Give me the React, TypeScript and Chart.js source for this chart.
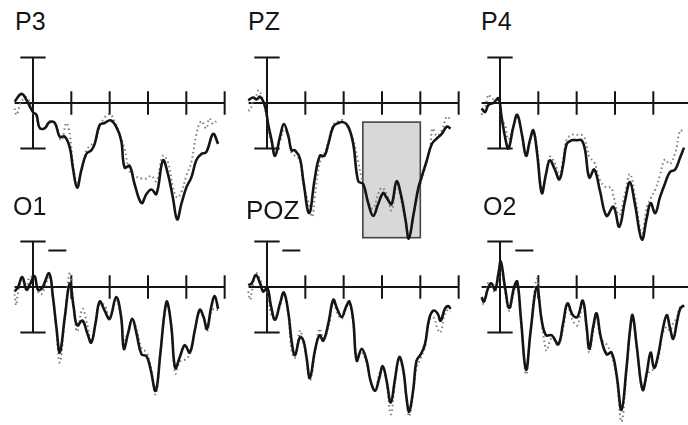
import { useEffect, useRef } from "react";
import { Chart, registerables } from "chart.js";

Chart.register(...registerables);

// ---------- data (time in ms, amplitude in µV) ----------
const TICKS_MS = [100, 200, 300, 400, 500];
const AXIS_START_MS = -48;
const AXIS_END_MS = 500;
const ERROR_BAR_UV = 5;
const TICK_HALF_UV = 1.3;
const SCALE_BAR_MS = [40, 87];
const SCALE_BAR_UV = 4;
const WINDOW_MS = [250, 400];
const WINDOW_UV = [-2.1, -14.8];

const P3_SOLID: [number, number][] = [
  [-48, 0.15], [-30, 1.0], [-17, 0.33], [0, -1.0], [9, -1.3], [17, -2.7], [30, -2.8], [43, -2.1],
  [57, -2.2], [70, -3.7], [83, -3.7], [96, -4.9], [104, -7.1], [115, -9.3], [126, -7.4], [139, -5.6],
  [152, -5.2], [161, -4.5], [174, -2.4], [187, -2.2], [202, -1.9], [217, -2.6], [230, -4.1], [239, -7.1],
  [252, -6.9], [265, -8.9], [283, -11.0], [296, -10.0], [309, -9.5], [322, -10.0], [339, -6.3], [352, -7.8],
  [365, -10.4], [376, -12.8], [387, -11.1], [400, -9.3], [413, -8.2], [426, -6.3], [439, -5.6], [452, -5.4],
  [470, -3.4], [483, -4.5],
];
const P3_DOTTED: [number, number][] = [
  [-48, -0.6], [-43, -1.3], [-30, 0.2], [-15, 0.6], [0, -1.1], [9, -1.5], [17, -2.8], [30, -2.8],
  [43, -2.0], [57, -2.2], [74, -4.1], [87, -2.2], [96, -3.5], [104, -6.5], [115, -8.9], [126, -7.6],
  [139, -5.2], [152, -4.6], [161, -4.3], [174, -2.6], [187, -1.6], [200, -1.2], [213, -2.0], [226, -3.5],
  [239, -5.0], [252, -7.5], [265, -8.0], [283, -8.3], [296, -8.3], [309, -8.0], [322, -8.6], [339, -5.8],
  [352, -6.5], [365, -9.2], [376, -10.4], [387, -9.8], [400, -8.0], [413, -6.5], [426, -3.5], [439, -2.0],
  [452, -2.8], [460, -1.7], [470, -2.3], [478, -2.0],
];

const PZ_SOLID: [number, number][] = [
  [-49, 0.3], [-36, 0.6], [-27, 0.4], [-18, 0.7], [-5, -0.4], [3, -2.3], [12, -4.1], [21, -5.8],
  [34, -3.7], [44, -2.3], [56, -3.7], [64, -5.2], [73, -5.2], [86, -6.1], [95, -8.6], [110, -12.1],
  [125, -8.2], [138, -5.8], [150, -5.8], [160, -4.5], [173, -2.6], [186, -2.2], [199, -2.1], [212, -2.6],
  [225, -4.5], [238, -8.6], [251, -8.9], [264, -11.0], [277, -12.4], [290, -11.1], [303, -9.9], [312, -10.4],
  [325, -11.1], [338, -8.6], [351, -10.4], [362, -13.0], [370, -14.9], [382, -12.3], [395, -9.3], [403, -8.2],
  [417, -6.3], [430, -4.5], [443, -3.9], [456, -3.4], [469, -2.6], [479, -2.8],
];
const PZ_DOTTED: [number, number][] = [
  [-49, -0.8], [-44, -0.8], [-36, 0.3], [-28, 0.8], [-22, 1.4], [-14, 0.8], [-5, -0.6], [3, -2.6],
  [12, -4.5], [21, -5.2], [34, -4.2], [44, -2.9], [56, -3.5], [64, -5.5], [73, -5.8], [86, -6.3],
  [95, -9.0], [110, -11.2], [118, -12.5], [125, -10.2], [138, -6.5], [150, -5.5], [160, -4.2], [173, -2.4],
  [186, -2.0], [199, -1.9], [212, -2.8], [225, -4.0], [238, -6.5], [251, -9.0], [264, -10.8], [277, -11.6],
  [290, -10.0], [300, -9.3], [312, -10.0], [325, -11.8], [338, -9.0], [351, -10.8], [362, -13.2], [370, -14.9],
  [382, -12.5], [395, -9.8], [410, -7.5], [425, -5.0], [432, -2.8], [443, -3.6], [456, -3.0], [469, -1.5],
  [479, -1.8],
];

const P4_SOLID: [number, number][] = [
  [-48, -0.6], [-39, -1.0], [-30, -0.2], [-17, 0.0], [-4, 0.5], [4, -1.5], [13, -3.7], [22, -5.0],
  [35, -2.6], [45, -1.3], [57, -3.4], [68, -5.8], [78, -4.1], [87, -3.0], [97, -5.6], [109, -9.9],
  [120, -7.8], [130, -6.3], [143, -7.3], [155, -8.4], [165, -6.7], [174, -4.5], [187, -4.1], [200, -4.1],
  [213, -4.1], [222, -5.2], [233, -8.2], [246, -7.3], [261, -9.7], [278, -12.4], [296, -11.4], [311, -13.6],
  [326, -10.8], [339, -8.7], [352, -11.1], [370, -15.0], [383, -12.6], [393, -11.0], [405, -12.1], [417, -10.4],
  [430, -8.9], [443, -7.6], [457, -7.3], [470, -6.0], [480, -4.9],
];
const P4_DOTTED: [number, number][] = [
  [-48, -1.3], [-39, -0.5], [-30, 0.9], [-22, 0.5], [-10, 0.4], [-4, 0.5], [4, -1.8], [13, -2.4],
  [22, -4.0], [35, -2.5], [45, -1.4], [57, -3.6], [68, -5.4], [78, -4.2], [87, -3.2], [97, -5.0],
  [109, -9.4], [120, -7.9], [130, -5.9], [143, -6.6], [155, -8.0], [165, -6.0], [174, -4.0], [187, -3.5],
  [200, -3.5], [213, -3.5], [222, -4.0], [233, -5.9], [246, -6.5], [261, -8.5], [278, -9.3], [290, -9.3],
  [296, -10.2], [311, -12.3], [326, -10.0], [339, -7.8], [352, -10.2], [370, -14.3], [383, -11.5], [393, -10.5],
  [405, -9.5], [417, -8.0], [430, -6.2], [443, -6.7], [457, -5.5], [470, -3.0], [478, -3.2],
];

const O1_SOLID: [number, number][] = [
  [-48, -0.5], [-39, 0.0], [-28, 1.1], [-17, -0.3], [-9, 0.2], [4, 1.2], [13, -0.3], [24, -0.1],
  [42, 1.5], [52, -1.1], [61, -4.4], [70, -7.2], [83, -3.3], [96, 0.4], [106, -2.2], [115, -4.2],
  [129, -3.7], [141, -5.0], [152, -6.1], [163, -4.0], [174, -1.6], [187, -2.6], [200, -3.5], [217, -1.1],
  [230, -3.3], [237, -6.8], [248, -5.1], [259, -3.5], [270, -5.1], [283, -7.4], [296, -7.6], [306, -8.9],
  [320, -11.4], [332, -7.4], [343, -2.9], [350, -1.6], [361, -4.4], [371, -8.9], [383, -7.7], [396, -6.4],
  [409, -7.2], [422, -4.8], [435, -2.5], [445, -3.3], [454, -4.6], [465, -2.2], [474, -1.0], [483, -2.4],
];
const O1_DOTTED: [number, number][] = [
  [-48, -0.8], [-44, -2.0], [-39, -0.6], [-28, 0.9], [-17, -0.2], [-9, 1.1], [4, 0.9], [13, -0.5],
  [22, -0.8], [42, 1.0], [52, -1.3], [61, -4.8], [70, -8.3], [83, -3.5], [96, 1.6], [106, -2.0],
  [115, -4.9], [129, -2.4], [141, -4.0], [152, -6.0], [163, -4.1], [174, -1.9], [187, -2.0], [200, -3.5],
  [217, -1.5], [230, -3.6], [237, -5.8], [248, -5.0], [259, -3.5], [270, -4.6], [283, -6.7], [296, -7.2],
  [306, -8.5], [320, -11.8], [332, -7.4], [343, -3.0], [350, -1.7], [361, -4.4], [371, -9.5], [383, -8.2],
  [396, -8.0], [409, -7.4], [422, -4.8], [435, -2.6], [445, -3.4], [454, -4.9], [465, -2.7], [474, -2.4],
  [483, -2.6],
];

const POZ_SOLID: [number, number][] = [
  [-49, 0.2], [-40, 0.4], [-29, 1.3], [-18, 0.4], [-10, -0.5], [1, -0.1], [10, -2.0], [21, -3.6],
  [34, -1.8], [44, -0.6], [56, -2.9], [64, -5.9], [73, -7.5], [86, -5.5], [95, -5.9], [103, -7.7],
  [112, -10.0], [125, -7.0], [137, -5.3], [147, -5.9], [160, -4.0], [173, -1.4], [183, -2.4], [195, -3.3],
  [206, -2.2], [215, -1.6], [225, -3.7], [234, -8.1], [247, -6.8], [260, -8.1], [270, -10.3], [282, -11.4],
  [293, -10.0], [302, -8.7], [312, -10.3], [323, -12.7], [334, -10.1], [345, -7.7], [356, -9.2], [364, -12.2],
  [371, -13.7], [382, -11.1], [390, -8.1], [401, -7.4], [412, -6.3], [423, -3.5], [434, -2.6], [445, -2.9],
  [453, -3.7], [464, -2.4], [473, -2.1], [479, -2.4],
];
const POZ_DOTTED: [number, number][] = [
  [-49, -0.5], [-44, -1.4], [-40, -0.6], [-29, 1.5], [-18, 0.9], [-10, -0.3], [1, -0.6], [10, -2.9],
  [21, -3.5], [34, -2.1], [44, -0.8], [56, -3.3], [64, -7.0], [73, -7.8], [86, -4.8], [95, -6.1],
  [103, -8.0], [112, -10.3], [125, -7.3], [137, -4.6], [147, -5.6], [160, -4.5], [173, -1.6], [183, -2.8],
  [195, -3.5], [206, -2.4], [215, -1.8], [225, -4.0], [234, -7.5], [247, -7.2], [260, -8.4], [270, -10.3],
  [282, -11.4], [293, -9.5], [302, -8.9], [312, -10.5], [323, -14.0], [334, -10.5], [345, -7.9], [356, -9.5],
  [364, -12.4], [371, -14.2], [382, -11.4], [390, -8.9], [401, -7.8], [412, -6.6], [423, -3.7], [434, -3.3],
  [445, -4.6], [453, -5.0], [464, -2.9], [473, -2.5], [479, -2.7],
];

const O2_SOLID: [number, number][] = [
  [-48, -1.1], [-42, -1.6], [-30, 0.0], [-22, 0.4], [-13, -0.3], [-4, 1.5], [2, 2.8], [13, 0.0],
  [24, -2.3], [37, 0.0], [45, 0.6], [55, -3.7], [68, -9.1], [80, -4.8], [96, 0.0], [109, -3.7],
  [120, -5.3], [135, -5.3], [152, -6.3], [165, -3.9], [176, -1.8], [190, -3.1], [202, -3.3], [216, -1.5],
  [226, -4.4], [233, -6.8], [243, -4.4], [252, -2.9], [263, -5.5], [278, -7.4], [291, -7.2], [304, -9.6],
  [317, -13.5], [330, -8.9], [339, -4.8], [346, -3.1], [357, -6.6], [372, -11.3], [383, -9.4], [393, -7.2],
  [402, -8.9], [413, -7.4], [424, -4.8], [435, -3.1], [443, -4.4], [452, -5.7], [461, -4.0], [470, -2.4],
  [480, -2.0],
];
const O2_DOTTED: [number, number][] = [
  [-48, -1.3], [-42, -1.9], [-30, 0.6], [-22, 0.2], [-13, -0.6], [-4, 1.0], [2, 2.4], [13, -0.4],
  [24, -2.6], [37, -0.4], [45, 0.3], [55, -3.7], [68, -9.6], [80, -4.8], [96, 0.9], [109, -4.0],
  [118, -6.6], [122, -7.0], [135, -5.6], [152, -6.1], [165, -4.5], [176, -2.0], [190, -3.7], [202, -4.2],
  [216, -1.8], [226, -4.8], [233, -7.2], [243, -5.0], [252, -3.3], [263, -5.7], [278, -6.3], [291, -7.5],
  [304, -10.0], [317, -14.8], [330, -9.3], [339, -5.0], [346, -3.3], [357, -6.8], [372, -11.3], [383, -9.8],
  [393, -9.2], [402, -9.0], [413, -7.8], [424, -5.2], [435, -4.4], [443, -4.8], [452, -4.0], [461, -3.4],
  [470, -2.2], [480, -2.1],
];

// ---------- layout ----------
const PX_PER_MS = 0.3833;
const PX_PER_UV = 9.1;
const V_MIN = -17.5;
const V_MAX = 7;
const CANVAS_W = 232;
const LEFT_PAD_PX = 27;

type PanelDef = {
  name: string;
  x0: number; // pixel of t = 0
  axisY: number; // pixel of 0 µV
  solid: [number, number][];
  dotted: [number, number][];
  labelLeft: number;
  labelTop: number;
  labelSize: number;
  scaleBar: boolean;
  window: boolean;
};

const PANELS: PanelDef[] = [
  { name: "P3", x0: 33, axisY: 103, solid: P3_SOLID, dotted: P3_DOTTED, labelLeft: 15, labelTop: 9, labelSize: 25, scaleBar: false, window: false },
  { name: "PZ", x0: 267, axisY: 103, solid: PZ_SOLID, dotted: PZ_DOTTED, labelLeft: 248, labelTop: 9, labelSize: 25, scaleBar: false, window: true },
  { name: "P4", x0: 500, axisY: 103, solid: P4_SOLID, dotted: P4_DOTTED, labelLeft: 481, labelTop: 9, labelSize: 25, scaleBar: false, window: false },
  { name: "O1", x0: 33, axisY: 287, solid: O1_SOLID, dotted: O1_DOTTED, labelLeft: 13, labelTop: 194, labelSize: 25, scaleBar: true, window: false },
  { name: "POZ", x0: 267, axisY: 287, solid: POZ_SOLID, dotted: POZ_DOTTED, labelLeft: 246, labelTop: 197, labelSize: 26, scaleBar: true, window: false },
  { name: "O2", x0: 500, axisY: 287, solid: O2_SOLID, dotted: O2_DOTTED, labelLeft: 483, labelTop: 194, labelSize: 25, scaleBar: true, window: false },
];

const INK = "#151515";

function Panel({ p }: { p: PanelDef }) {
  const ref = useRef<HTMLCanvasElement>(null);
  const left = Math.round(p.x0 - LEFT_PAD_PX);
  const top = Math.round(p.axisY - V_MAX * PX_PER_UV);
  const height = Math.round((V_MAX - V_MIN) * PX_PER_UV);
  const tMin = (left - p.x0) / PX_PER_MS;
  const tMax = tMin + CANVAS_W / PX_PER_MS;
  const vMax = (p.axisY - top) / PX_PER_UV;
  const vMin = vMax - height / PX_PER_UV;

  useEffect(() => {
    const canvas = ref.current!;
    const decor = {
      id: "erpDecor",
      beforeDatasetsDraw(chart: any) {
        const { ctx } = chart;
        const xs = chart.scales.x;
        const ys = chart.scales.y;
        const X = (t: number) => xs.getPixelForValue(t);
        const Y = (v: number) => ys.getPixelForValue(v);
        ctx.save();
        if (p.window) {
          const x1 = X(WINDOW_MS[0]);
          const x2 = X(WINDOW_MS[1]);
          const y1 = Y(WINDOW_UV[0]);
          const y2 = Y(WINDOW_UV[1]);
          ctx.fillStyle = "#d8d8d8";
          ctx.fillRect(x1, y1, x2 - x1, y2 - y1);
          ctx.strokeStyle = "#444";
          ctx.lineWidth = 1.6;
          ctx.strokeRect(x1, y1, x2 - x1, y2 - y1);
        }
        ctx.strokeStyle = INK;
        ctx.lineWidth = 2;
        ctx.lineCap = "butt";
        ctx.beginPath();
        ctx.moveTo(X(AXIS_START_MS), Y(0));
        ctx.lineTo(X(AXIS_END_MS), Y(0));
        for (const t of TICKS_MS) {
          ctx.moveTo(X(t), Y(TICK_HALF_UV));
          ctx.lineTo(X(t), Y(-TICK_HALF_UV));
        }
        ctx.moveTo(X(0), Y(ERROR_BAR_UV));
        ctx.lineTo(X(0), Y(-ERROR_BAR_UV));
        ctx.moveTo(X(-33), Y(ERROR_BAR_UV));
        ctx.lineTo(X(33), Y(ERROR_BAR_UV));
        ctx.moveTo(X(-33), Y(-ERROR_BAR_UV));
        ctx.lineTo(X(33), Y(-ERROR_BAR_UV));
        if (p.scaleBar) {
          ctx.moveTo(X(SCALE_BAR_MS[0]), Y(SCALE_BAR_UV));
          ctx.lineTo(X(SCALE_BAR_MS[1]), Y(SCALE_BAR_UV));
        }
        ctx.stroke();
        ctx.restore();
      },
    };

    const chart = new Chart(canvas, {
      type: "line",
      data: {
        datasets: [
          {
            label: p.name + " solid",
            data: p.solid.map(([x, y]) => ({ x, y })),
            borderColor: INK,
            borderWidth: 2.6,
            pointRadius: 0,
            tension: 0.4,
            fill: false,
            order: 0,
            clip: false as any,
          },
          {
            label: p.name + " dotted",
            data: p.dotted.map(([x, y]) => ({ x, y })),
            borderColor: "#7d7d7d",
            borderWidth: 2,
            borderDash: [1.5, 3],
            pointRadius: 0,
            tension: 0.4,
            fill: false,
            order: 1,
            clip: false as any,
          },
        ],
      },
      options: {
        animation: false,
        responsive: false,
        devicePixelRatio: 1,
        layout: { padding: 0 },
        events: [],
        plugins: { legend: { display: false }, tooltip: { enabled: false }, title: { display: false } },
        scales: {
          x: { type: "linear", min: tMin, max: tMax, display: false },
          y: { type: "linear", min: vMin, max: vMax, display: false },
        },
      },
      plugins: [decor],
    });
    return () => chart.destroy();
  }, []);

  return (
    <canvas
      ref={ref}
      width={CANVAS_W}
      height={height}
      style={{ position: "absolute", left, top, width: CANVAS_W, height }}
    />
  );
}

export default function App() {
  return (
    <div
      style={{
        position: "absolute",
        left: 0,
        top: 0,
        width: 688,
        height: 425,
        overflow: "hidden",
        background: "#fff",
      }}
    >
      {PANELS.map((p) => (
        <Panel key={p.name} p={p} />
      ))}
      {PANELS.map((p) => (
        <div
          key={p.name + "-label"}
          style={{
            position: "absolute",
            left: p.labelLeft,
            top: p.labelTop,
            fontFamily: "'Liberation Sans', Arial, sans-serif",
            fontSize: p.labelSize,
            lineHeight: 1,
            color: INK,
            whiteSpace: "nowrap",
          }}
        >
          {p.name}
        </div>
      ))}
    </div>
  );
}
